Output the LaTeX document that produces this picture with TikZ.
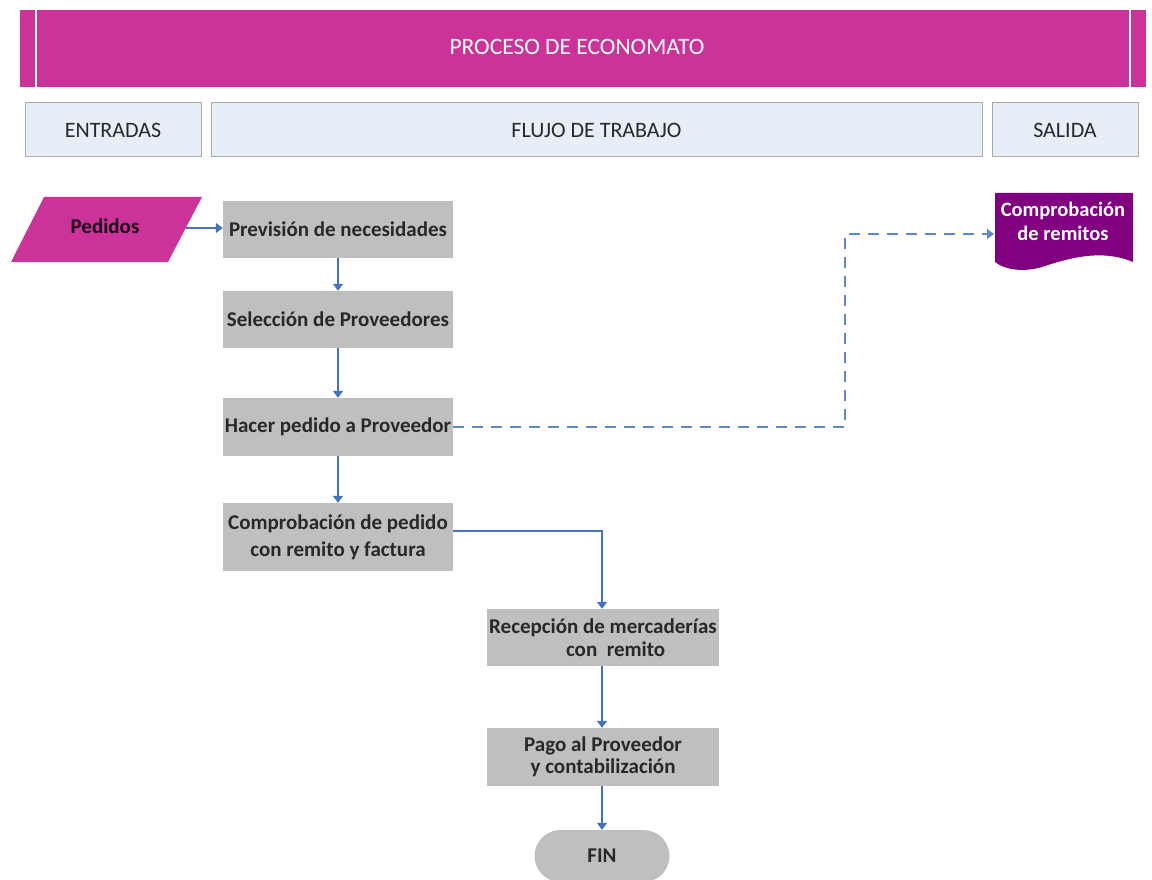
\documentclass[tikz,border=0pt]{standalone}
\usepackage{fontspec}
\setmainfont{Carlito}
\usetikzlibrary{arrows.meta,shapes.misc}
\definecolor{mag}{RGB}{204,51,153}
\definecolor{purp}{RGB}{128,0,128}
\definecolor{boxgray}{RGB}{191,191,191}
\definecolor{hdrblue}{RGB}{232,238,247}
\definecolor{hdrline}{RGB}{170,170,170}
\definecolor{flow}{RGB}{68,114,196}
\definecolor{txt}{RGB}{40,40,40}
\tikzset{
  hdr/.style={draw=hdrline, line width=1pt, fill=hdrblue, inner sep=0pt, font=\fontsize{22}{26}\selectfont, text=txt},
  proc/.style={fill=boxgray, inner sep=0pt, font=\bfseries\fontsize{21}{25}\selectfont, text=txt, align=center},
  conn/.style={draw=flow, line width=2.8pt, -{Triangle[length=7pt,width=10pt]}},
  dconn/.style={draw=flow!85, line width=2.8pt, dash pattern=on 11pt off 8pt, -{Triangle[length=7pt,width=10pt]}}
}
\begin{document}
\begin{tikzpicture}[x=1pt,y=-1pt]
\useasboundingbox (0,0) rectangle (1152,880);
% title bar
\fill[mag] (20,10) rectangle (1146,87);
\draw[white, line width=2pt] (36,10) -- (36,87);
\draw[white, line width=2pt] (1130,10) -- (1130,87);
\node[text=white, font=\fontsize{23.5}{28}\selectfont] (title) at (577,47) {PROCESO DE ECONOMATO};
% header row
\node[hdr, minimum width=176pt, minimum height=54pt] (ent) at (113,130) {ENTRADAS};
\node[hdr, minimum width=771pt, minimum height=54pt] (flu) at (596.5,130) {FLUJO DE TRABAJO};
\node[hdr, minimum width=146pt, minimum height=54pt] (sal) at (1065,130) {SALIDA};
% Pedidos parallelogram
\fill[mag] (44,197) -- (202,197) -- (168,262) -- (11,262) -- cycle;
\node[font=\bfseries\fontsize{21}{25}\selectfont, text=black!80!purp] (ped) at (105,226) {Pedidos};
\coordinate (pedR) at (186,228);
% process boxes
\node[proc, minimum width=230pt, minimum height=57pt] (prev) at (338,229.5) {Previsión de necesidades};
\node[proc, minimum width=230pt, minimum height=57pt] (sel) at (338,319.5) {Selección de Proveedores};
\node[proc, minimum width=230pt, minimum height=58pt] (hac) at (338,427) {Hacer pedido a Proveedor};
\node[proc, minimum width=230pt, minimum height=68pt, font=\bfseries\fontsize{21}{27}\selectfont] (comp) at (338,537) {Comprobación de pedido\\con remito y factura\vphantom{p}};
\node[proc, minimum width=232pt, minimum height=57pt, font=\bfseries\fontsize{21}{23}\selectfont] (rec) at (603,637.5) {Recepción de mercaderías\\\hspace*{1.2em}con\ \ remito};
\node[proc, minimum width=232pt, minimum height=58pt, font=\bfseries\fontsize{21}{22}\selectfont] (pago) at (603,757) {Pago al Proveedor\\y contabilización};
\node[proc, rounded rectangle, minimum width=135pt, minimum height=52pt] (fin) at (602,856) {FIN};
% document shape
\fill[purp] (995,193) -- (1133,193) -- (1133,262)
  .. controls (1105,250) and (1075,256) .. (1045,266)
  .. controls (1025,273) and (1005,270) .. (995,262) -- cycle;
\node[text=white, font=\bfseries\fontsize{20.5}{24}\selectfont, align=center] (doc) at (1063,221) {Comprobación\\de remitos};
\coordinate (docW) at (994,234);
% connectors
\draw[conn] (pedR) -- (prev.west |- pedR);
\draw[conn] (prev.south) -- (sel.north);
\draw[conn] (sel.south) -- (hac.north);
\draw[conn] (hac.south) -- (comp.north);
\draw[conn] (comp.east |- 0,531) -| (rec.north -| 602,0);
\draw[conn] (rec.south -| 602,0) -- (pago.north -| 602,0);
\draw[conn] (pago.south -| 602,0) -- (fin.north);
\draw[dconn] (hac.east) -- (845,427) |- (docW);
\end{tikzpicture}
\end{document}
